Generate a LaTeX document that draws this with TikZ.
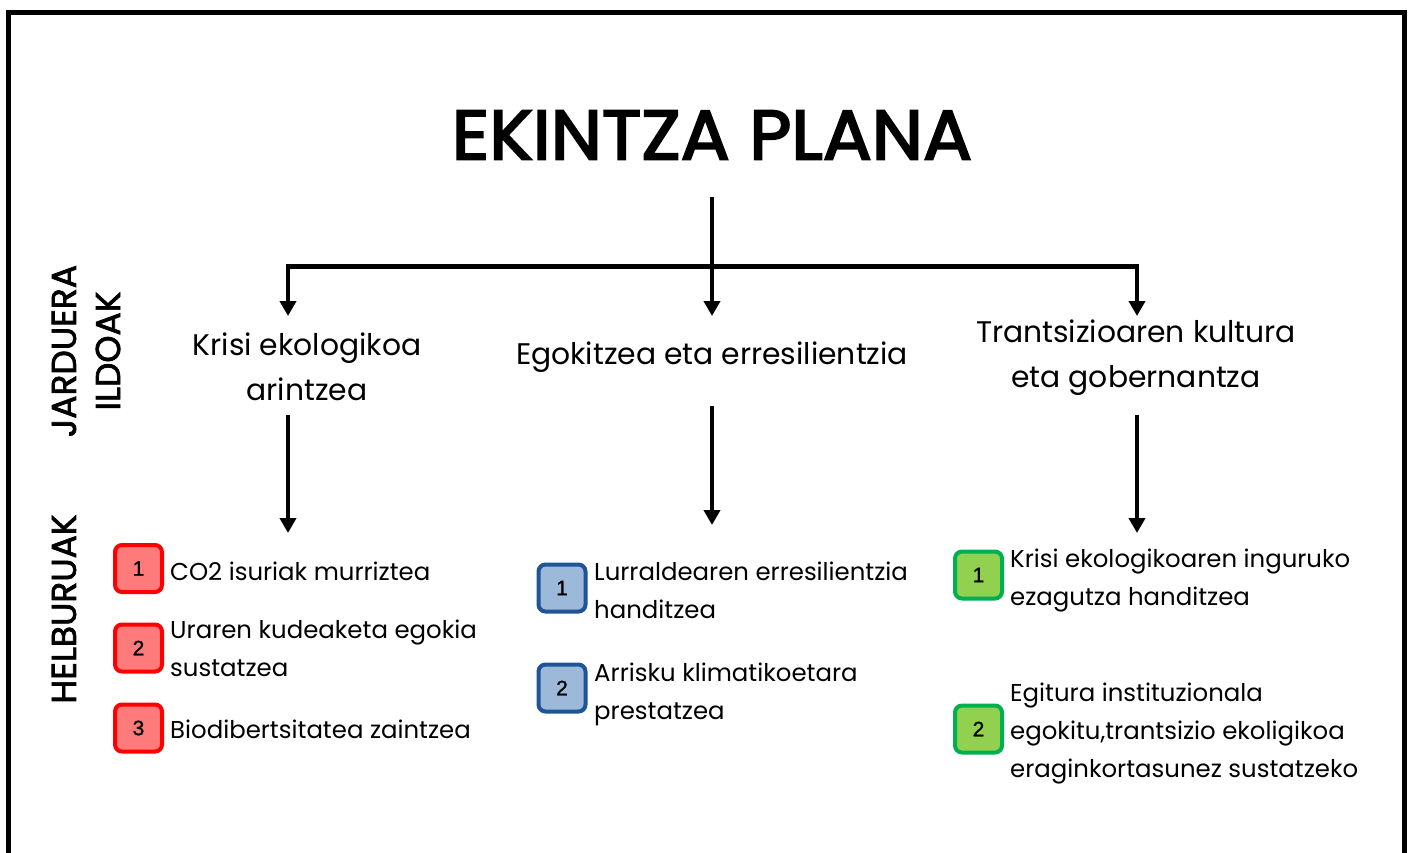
\documentclass[tikz,border=0pt]{standalone}
\usepackage{fontspec}
\setmainfont{Poppins}
\newfontfamily\numfont[FakeBold=1]{Liberation Sans}
\newfontfamily\heavyfont[FakeBold=3,FakeStretch=1.04]{Poppins}
\newfontfamily\semifont[FakeBold=2]{Poppins}
\usetikzlibrary{arrows.meta}
\definecolor{redfill}{HTML}{FF7B7B}
\definecolor{redline}{HTML}{FF0000}
\definecolor{bluefill}{HTML}{9DB9DA}
\definecolor{blueline}{HTML}{1F5597}
\definecolor{greenfill}{HTML}{92D050}
\definecolor{greenline}{HTML}{00B050}
\tikzset{
  conn/.style={line width=4.5pt, draw=black},
  arr/.style={conn, -{Triangle[length=15pt,width=16pt]}},
  badge/.style={draw, line width=4pt, rounded corners=7pt, minimum width=47pt, minimum height=47pt, inner sep=0pt, font=\numfont\fontsize{21}{21}\selectfont},
  rbadge/.style={badge, draw=redline, fill=redfill},
  bbadge/.style={badge, draw=blueline, fill=bluefill},
  gbadge/.style={badge, draw=greenline, fill=greenfill},
  item/.style={anchor=west, align=left, inner sep=0pt, font=\fontsize{24.4}{38}\selectfont},
  col/.style={align=center, inner sep=0pt, font=\fontsize{29.8}{45}\selectfont},
  side/.style={rotate=90, inner sep=0pt, font=\semifont\fontsize{34.5}{34.5}\selectfont}
}
\begin{document}
\begin{tikzpicture}[x=1pt,y=-1pt]
\useasboundingbox (0,0) rectangle (1412,852);
\fill[white] (0,0) rectangle (1412,852);
% frame (open at bottom)
\draw[line width=5pt] (8.5,860) -- (8.5,12.5) -- (1404,12.5) -- (1404,860);

% title
\node[inner sep=0pt, font=\heavyfont\fontsize{70}{70}\selectfont] (title) at (712,135) {EKINTZA PLANA};

% side labels
\node[side] (jard) at (64,351) {JARDUERA};
\node[side] (ildo) at (108,351) {ILDOAK};
\node[side] (helb) at (64,609) {HELBURUAK};

% column labels
\node[col] (c1) at (307,367) {Krisi ekologikoa\\arintzea};
\node[col] (c2) at (712,357) {Egokitzea eta erresilientzia};
\node[col] (c3) at (1136,358) {Trantsizioaren kultura\\eta gobernantza};

% connector coordinates
\coordinate (top) at (712,197);
\coordinate (hl) at (288,266.5);
\coordinate (hr) at (1137,266.5);
\coordinate (t1) at (288,316);
\coordinate (t2) at (712,316);
\coordinate (t3) at (1137,316);
\coordinate (s1) at (288,415);
\coordinate (e1) at (288,533);
\coordinate (s2) at (712,406);
\coordinate (e2) at (712,525);
\coordinate (s3) at (1137,415);
\coordinate (e3) at (1137,533);

\draw[arr] (top) -- (t2);
\draw[conn] (hl) -- (hr);
\draw[arr] ([yshift=2.25pt]hl) -- (t1);
\draw[arr] ([yshift=2.25pt]hr) -- (t3);
\draw[arr] (s1) -- (e1);
\draw[arr] (s2) -- (e2);
\draw[arr] (s3) -- (e3);

% column 1 goals
\node[rbadge] (r1) at (138.5,568.5) {1};
\node[rbadge] (r2) at (138.5,648) {2};
\node[rbadge] (r3) at (138.5,728) {3};
\node[item] (r1t) at (170,571) {CO2 isuriak murriztea};
\node[item] (r2t) at (170,648.5) {Uraren kudeaketa egokia\\sustatzea};
\node[item] (r3t) at (170,729) {Biodibertsitatea zaintzea};

% column 2 goals
\node[bbadge] (b1) at (562,588) {1};
\node[bbadge] (b2) at (562,688) {2};
\node[item] (b1t) at (594,590.5) {Lurraldearen erresilientzia\\handitzea};
\node[item] (b2t) at (594,694) {Arrisku klimatikoetara\\prestatzea};

% column 3 goals
\node[gbadge] (g1) at (978.5,575) {1};
\node[gbadge] (g2) at (978.5,729) {2};
\node[item] (g1t) at (1010,580) {Krisi ekologikoaren inguruko\\ezagutza handitzea};
\node[item] (g2t) at (1010,733) {Egitura instituzionala\\egokitu,trantsizio ekoligikoa\\eraginkortasunez sustatzeko};
\end{tikzpicture}
\end{document}
